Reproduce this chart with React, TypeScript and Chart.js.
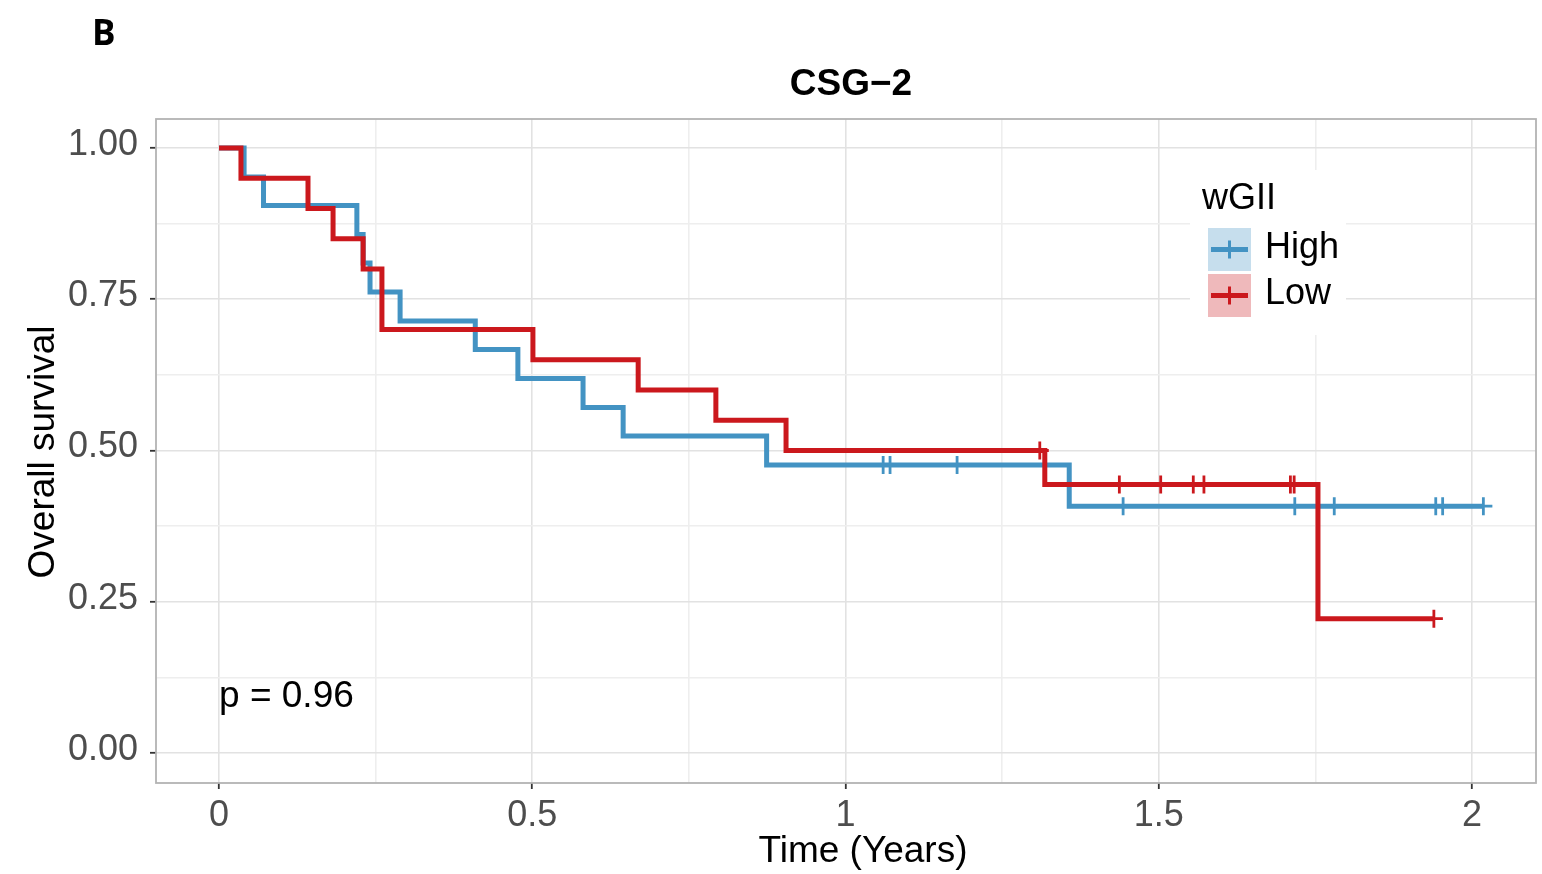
import React, { useEffect, useRef } from "react";
import { Chart, registerables } from "chart.js";

Chart.register(...registerables);

// Kaplan–Meier step points, wGII High group
const highTimes = [0, 0.04, 0.071, 0.22, 0.23, 0.241, 0.289, 0.409, 0.477, 0.581, 0.645, 0.874, 1.357, 2.018];
const highSurv = [1, 0.952, 0.905, 0.857, 0.81, 0.762, 0.714, 0.667, 0.619, 0.571, 0.524, 0.476, 0.408, 0.408];
const highCensorTimes = [1.06, 1.071, 1.178, 1.443, 1.717, 1.78, 1.942, 1.953, 2.018];
const highCensorSurv = [0.476, 0.476, 0.476, 0.408, 0.408, 0.408, 0.408, 0.408, 0.408];

// Kaplan–Meier step points, wGII Low group
const lowTimes = [0, 0.035, 0.142, 0.182, 0.23, 0.26, 0.501, 0.669, 0.793, 0.905, 1.318, 1.754, 1.939];
const lowSurv = [1, 0.95, 0.9, 0.85, 0.8, 0.7, 0.65, 0.6, 0.55, 0.5, 0.444, 0.222, 0.222];
const lowCensorTimes = [1.31, 1.437, 1.503, 1.555, 1.572, 1.71, 1.716, 1.939];
const lowCensorSurv = [0.5, 0.444, 0.444, 0.444, 0.444, 0.444, 0.444, 0.222];

// Axis ticks (majors carry labels, the rest are minor grid lines)
const xGridValues = [0, 0.25, 0.5, 0.75, 1, 1.25, 1.5, 1.75, 2];
const xTickLabels: Record<string, string> = { "0": "0", "0.5": "0.5", "1": "1", "1.5": "1.5", "2": "2" };
const yGridValues = [0, 0.125, 0.25, 0.375, 0.5, 0.625, 0.75, 0.875, 1];
const yTickLabels: Record<string, string> = { "0": "0.00", "0.25": "0.25", "0.5": "0.50", "0.75": "0.75", "1": "1.00" };

const groupNames = ["High", "Low"];
const groupColors = ["#4393c3", "#cb181d"];
const groupFills = ["rgba(67,147,195,0.3)", "rgba(203,24,29,0.3)"];

const plotTitle = "CSG\u22122";
const panelTag = "B";
const xTitle = "Time (Years)";
const yTitle = "Overall survival";
const legendTitle = "wGII";
const pValueText = "p = 0.96";

const FONT = '"Liberation Sans", Arial, Helvetica, sans-serif';

const pts = (xs: number[], ys: number[]) => xs.map((x, i) => ({ x, y: ys[i] }));

const decorPlugin = {
  id: "decor",
  afterDraw(chart: any) {
    const ctx: CanvasRenderingContext2D = chart.ctx;
    const { left, top, right, bottom } = chart.chartArea;
    const xs = chart.scales.x;
    ctx.save();

    // panel border
    ctx.strokeStyle = "#b3b3b3";
    ctx.lineWidth = 1.8;
    ctx.strokeRect(left, top, right - left, bottom - top);

    ctx.fillStyle = "#000";
    ctx.textBaseline = "alphabetic";

    // panel tag
    ctx.font = 'bold 35px "Open Sans", ' + FONT;
    ctx.textAlign = "left";
    ctx.fillText(panelTag, 92, 45);

    // title
    ctx.font = "bold 37px " + FONT;
    ctx.textAlign = "center";
    ctx.fillText(plotTitle, 851, 95);

    // axis titles
    ctx.font = "37px " + FONT;
    ctx.fillText(xTitle, 863, 862);
    ctx.save();
    ctx.translate(54, 452);
    ctx.rotate(-Math.PI / 2);
    ctx.fillText(yTitle, 0, 0);
    ctx.restore();

    // p-value
    ctx.textAlign = "left";
    ctx.fillText(pValueText, xs.getPixelForValue(0), 707);

    // legend
    ctx.fillStyle = "#ffffff";
    ctx.fillRect(1190, 170, 156, 165);
    ctx.fillStyle = "#000";
    ctx.font = "36px " + FONT;
    ctx.fillText(legendTitle, 1202, 209);
    const keyX = 1208;
    const keyYs = [228, 274];
    const keySize = 43;
    groupNames.forEach((name, i) => {
      const ky = keyYs[i];
      ctx.fillStyle = groupFills[i];
      ctx.fillRect(keyX, ky, keySize, keySize);
      const cx = keyX + keySize / 2;
      const cy = ky + keySize / 2;
      ctx.strokeStyle = groupColors[i];
      ctx.lineWidth = 4.8;
      ctx.beginPath();
      ctx.moveTo(keyX + 3, cy);
      ctx.lineTo(keyX + keySize - 3, cy);
      ctx.stroke();
      ctx.lineWidth = 3;
      ctx.beginPath();
      ctx.moveTo(cx, cy - 9);
      ctx.lineTo(cx, cy + 9);
      ctx.stroke();
      ctx.fillStyle = "#000";
      ctx.fillText(name, 1265, ky + 30);
    });

    ctx.restore();
  },
};

export default function App() {
  const canvasRef = useRef<HTMLCanvasElement | null>(null);

  useEffect(() => {
    const canvas = canvasRef.current;
    if (!canvas) return;
    Chart.defaults.font.family = FONT;

    const isMajor = (map: Record<string, string>, v: number) => map[String(v)] !== undefined;

    const chart = new Chart(canvas, {
      type: "line",
      data: {
        datasets: [
          {
            label: "Low",
            data: pts(lowTimes, lowSurv),
            borderColor: groupColors[1],
            borderWidth: 5,
            stepped: "before",
            pointRadius: 0,
            fill: false,
            order: 0,
          },
          {
            label: "Low censored",
            type: "scatter",
            data: pts(lowCensorTimes, lowCensorSurv),
            showLine: false,
            pointStyle: "cross",
            pointRadius: 9,
            pointBorderWidth: 2.8,
            borderColor: groupColors[1],
            backgroundColor: groupColors[1],
            order: 1,
          },
          {
            label: "High",
            data: pts(highTimes, highSurv),
            borderColor: groupColors[0],
            borderWidth: 5,
            stepped: "before",
            pointRadius: 0,
            fill: false,
            order: 2,
          },
          {
            label: "High censored",
            type: "scatter",
            data: pts(highCensorTimes, highCensorSurv),
            showLine: false,
            pointStyle: "cross",
            pointRadius: 9,
            pointBorderWidth: 2.8,
            borderColor: groupColors[0],
            backgroundColor: groupColors[0],
            order: 3,
          },
        ] as any,
      },
      options: {
        animation: false,
        responsive: false,
        layout: { autoPadding: false, padding: { left: 0, top: 119, right: 6, bottom: 0 } },
        plugins: {
          legend: { display: false },
          tooltip: { enabled: false },
          title: { display: false },
        },
        elements: { line: { borderJoinStyle: "miter", borderCapStyle: "butt" } },
        scales: {
          x: {
            type: "linear",
            min: -0.1006,
            max: 2.102,
            afterBuildTicks: (scale: any) => {
              scale.ticks = xGridValues.map((v) => ({ value: v }));
            },
            afterFit: (scale: any) => {
              scale.height = 91;
              scale.paddingLeft = 0;
              scale.paddingRight = 0;
            },
            border: { display: false },
            grid: {
              color: (c: any) => (isMajor(xTickLabels, c.tick?.value) ? "#e2e2e2" : "#eeeeee"),
              lineWidth: 1.6,
              tickLength: 6,
              tickWidth: 1.8,
              tickColor: (c: any) => (isMajor(xTickLabels, c.tick?.value) ? "#333333" : "rgba(0,0,0,0)"),
            },
            ticks: {
              autoSkip: false,
              maxRotation: 0,
              padding: 5,
              color: "#4d4d4d",
              font: { size: 36, family: FONT },
              callback: (v: any) => xTickLabels[String(v)] ?? "",
            },
          },
          y: {
            type: "linear",
            min: -0.0496,
            max: 1.048,
            afterBuildTicks: (scale: any) => {
              scale.ticks = yGridValues.map((v) => ({ value: v }));
            },
            afterFit: (scale: any) => {
              scale.width = 156;
              scale.paddingTop = 0;
              scale.paddingBottom = 0;
            },
            border: { display: false },
            grid: {
              color: (c: any) => (isMajor(yTickLabels, c.tick?.value) ? "#e2e2e2" : "#eeeeee"),
              lineWidth: 1.6,
              tickLength: 6,
              tickWidth: 1.8,
              tickColor: (c: any) => (isMajor(yTickLabels, c.tick?.value) ? "#333333" : "rgba(0,0,0,0)"),
            },
            ticks: {
              autoSkip: false,
              padding: 12,
              labelOffset: -3,
              color: "#4d4d4d",
              font: { size: 36, family: FONT },
              callback: (v: any) => yTickLabels[String(v)] ?? "",
            },
          },
        },
      } as any,
      plugins: [decorPlugin],
    });

    return () => chart.destroy();
  }, []);

  return (
    <div style={{ position: "fixed", left: 0, top: 0, width: 1542, height: 874, background: "#fff" }}>
      <canvas ref={canvasRef} width={1542} height={874} style={{ display: "block" }} />
    </div>
  );
}
